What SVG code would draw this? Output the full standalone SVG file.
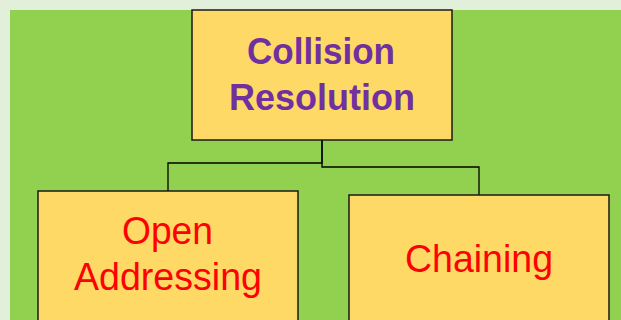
<svg xmlns="http://www.w3.org/2000/svg" width="621" height="320" viewBox="0 0 621 320">
  <style>
    .box { fill: #ffd966; stroke: #1a1a1a; stroke-width: 1.5; }
    .wire { fill: none; stroke: #000; stroke-width: 1.3; }
    .root { font-family: "Liberation Sans", Arial, sans-serif; font-weight: bold; font-size: 37px; fill: #7030a0; text-anchor: middle; }
    .leaf { font-family: "Liberation Sans", Arial, sans-serif; font-size: 38px; fill: #ff0000; text-anchor: middle; }
  </style>
  <rect x="0" y="0" width="621" height="320" fill="#e2efda"/>
  <rect x="10" y="10" width="611" height="310" fill="#92d050"/>

  <g id="connectors">
    <polyline class="wire" points="322,140 322,163 168,163 168,191"/>
    <polyline class="wire" points="322,140 322,167 479,167 479,196"/>
  </g>

  <g id="collision-resolution">
    <rect class="box" x="192" y="10" width="260" height="130"/>
    <text class="root" x="321" y="64" textLength="148" lengthAdjust="spacingAndGlyphs">Collision</text>
    <text class="root" x="322" y="110" textLength="186" lengthAdjust="spacingAndGlyphs">Resolution</text>
  </g>

  <g id="open-addressing">
    <rect class="box" x="38" y="191" width="260" height="140"/>
    <text class="leaf" x="167.5" y="244" textLength="91" lengthAdjust="spacingAndGlyphs">Open</text>
    <text class="leaf" x="168" y="290" textLength="188" lengthAdjust="spacingAndGlyphs">Addressing</text>
  </g>

  <g id="chaining">
    <rect class="box" x="349" y="195" width="260" height="140"/>
    <text class="leaf" x="479" y="272" textLength="148" lengthAdjust="spacingAndGlyphs">Chaining</text>
  </g>
</svg>
